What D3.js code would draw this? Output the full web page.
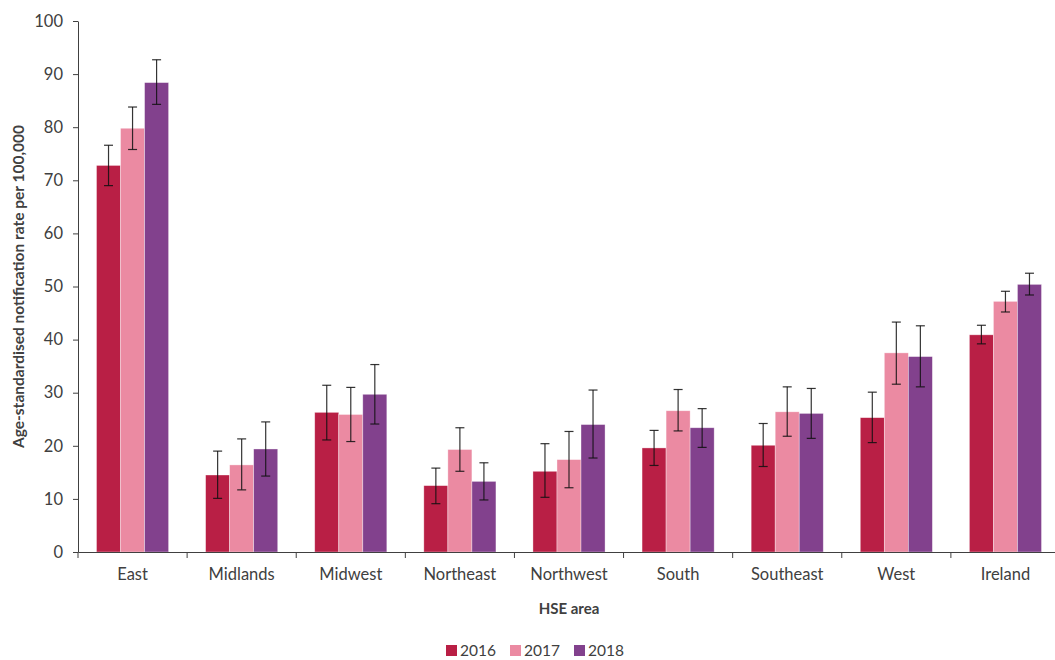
<!DOCTYPE html>
<html>
<head>
<meta charset="utf-8">
<script src="https://cdn.jsdelivr.net/npm/d3@7"></script>
<style>
  body { margin: 0; background: #fff; }
  text { font-family: Lato, "Open Sans", sans-serif; fill: #404040; }
</style>
</head>
<body>
<div id="chart"></div>
<script>
// HSE area notification rates, 2016-2018, with 95% CI
var areas = ['East', 'Midlands', 'Midwest', 'Northeast', 'Northwest', 'South', 'Southeast', 'West', 'Ireland'];
var years = ['2016', '2017', '2018'];
var colors = ['#b91f45', '#eb8aa2', '#82418d'];

var rate2016 = [72.8, 14.5, 26.3, 12.5, 15.2, 19.6, 20.1, 25.3, 40.9];
var rate2017 = [79.8, 16.4, 25.9, 19.3, 17.4, 26.6, 26.4, 37.5, 47.2];
var rate2018 = [88.4, 19.4, 29.7, 13.3, 24.0, 23.4, 26.1, 36.8, 50.4];

var low2016 = [69.0, 10.1, 21.1, 9.1, 10.3, 16.3, 16.1, 20.6, 39.2];
var high2016 = [76.6, 19.0, 31.4, 15.8, 20.4, 22.9, 24.2, 30.1, 42.7];
var low2017 = [75.8, 11.7, 20.8, 15.2, 12.1, 22.8, 21.8, 31.6, 45.2];
var high2017 = [83.8, 21.3, 31.0, 23.4, 22.7, 30.6, 31.1, 43.3, 49.1];
var low2018 = [84.3, 14.3, 24.1, 9.8, 17.7, 19.7, 21.4, 31.1, 48.4];
var high2018 = [92.7, 24.5, 35.3, 16.8, 30.5, 27.0, 30.8, 42.6, 52.5];

var yTicks = [0, 10, 20, 30, 40, 50, 60, 70, 80, 90, 100];

var rates = [rate2016, rate2017, rate2018];
var lows = [low2016, low2017, low2018];
var highs = [high2016, high2017, high2018];

var w = 1055;
var h = 660;
var margin = ({top: 21, right: -5, bottom: 108, left: 78});

var data = [];
areas.forEach(function(a, i) {
  years.forEach(function(yr, j) {
    data.push({area: a, year: yr, k: j, value: rates[j][i], lo: lows[j][i], hi: highs[j][i]});
  });
});

var x0 = d3.scaleBand()
     .domain(areas)
     .range([margin.left, w - margin.right])
     .padding(0);

var x1 = d3.scaleBand()
     .domain(years)
     .range([0, x0.bandwidth()])
     .paddingInner(0)
     .paddingOuter(0.77);

var y = d3.scaleLinear()
     .domain([0, 100])
     .range([h - margin.bottom, margin.top]);

var svg = d3.select('#chart')
     .append('svg')
     .attr('width', w)
     .attr('height', h);

// bars
svg.append('g')
   .selectAll('rect')
   .data(data)
   .enter()
   .append('rect')
   .attr('x', d => x0(d.area) + x1(d.year))
   .attr('y', d => y(d.value))
   .attr('width', x1.bandwidth())
   .attr('height', d => y(0) - y(d.value))
   .attr('fill', d => colors[d.k])
   .attr('stroke', '#fff')
   .attr('stroke-opacity', 0.5)
   .attr('stroke-width', 0.7);

// error bars
var err = svg.append('g')
   .attr('stroke', '#111')
   .attr('stroke-opacity', 0.85)
   .attr('stroke-width', 1.2)
   .selectAll('g')
   .data(data)
   .enter()
   .append('g')
   .attr('transform', d => 'translate(' + (x0(d.area) + x1(d.year) + x1.bandwidth() / 2) + ',0)');

err.append('line')
   .attr('y1', d => y(d.lo))
   .attr('y2', d => y(d.hi));
err.append('line')
   .attr('x1', -4.5).attr('x2', 4.5)
   .attr('y1', d => y(d.hi)).attr('y2', d => y(d.hi));
err.append('line')
   .attr('x1', -4.5).attr('x2', 4.5)
   .attr('y1', d => y(d.lo)).attr('y2', d => y(d.lo));

// y axis
var yAxis = g => g
     .attr('transform', 'translate(' + margin.left + ',0)')
     .call(d3.axisLeft(y).tickValues(yTicks).tickSize(5).tickPadding(10).tickSizeOuter(0))
     .call(g => g.selectAll('.domain, line').attr('stroke', '#404040'))
     .call(g => g.selectAll('text').attr('font-size', 16.5).attr('fill', '#404040').style('font-family', 'Lato, sans-serif'));

// x axis: labels centred on bands, ticks on band edges
var xAxis = g => g
     .attr('transform', 'translate(0,' + y(0) + ')')
     .call(d3.axisBottom(x0).tickSize(0).tickPadding(16).tickSizeOuter(0))
     .call(g => g.select('.domain').attr('stroke', '#404040'))
     .call(g => g.selectAll('text').attr('font-size', 16.5).attr('fill', '#404040').style('font-family', 'Lato, sans-serif'));

svg.append('g').call(xAxis);
svg.append('g').call(yAxis);

svg.append('g')
   .selectAll('line')
   .data(areas)
   .enter()
   .append('line')
   .attr('x1', d => x0(d))
   .attr('x2', d => x0(d))
   .attr('y1', y(0))
   .attr('y2', y(0) + 6)
   .attr('stroke', '#404040');

// titles
svg.append('text')
   .attr('transform', 'translate(24,' + ((y(0) + y(100)) / 2) + ') rotate(-90)')
   .attr('text-anchor', 'middle')
   .attr('font-size', 15.5)
   .attr('font-weight', 'bold')
   .text('Age-standardised notification rate per 100,000');

svg.append('text')
   .attr('x', (margin.left + w - margin.right) / 2)
   .attr('y', 614)
   .attr('text-anchor', 'middle')
   .attr('font-size', 15)
   .attr('font-weight', 'bold')
   .text('HSE area');

// legend
var legend = svg.append('g')
   .selectAll('g')
   .data(years)
   .enter()
   .append('g')
   .attr('transform', (d, i) => 'translate(' + (446 + i * 64) + ',645)');

legend.append('rect')
   .attr('width', 11)
   .attr('height', 11)
   .attr('fill', (d, i) => colors[i]);

legend.append('text')
   .attr('x', 14)
   .attr('y', 11)
   .attr('font-size', 15.5)
   .text(d => d);
</script>
</body>
</html>
